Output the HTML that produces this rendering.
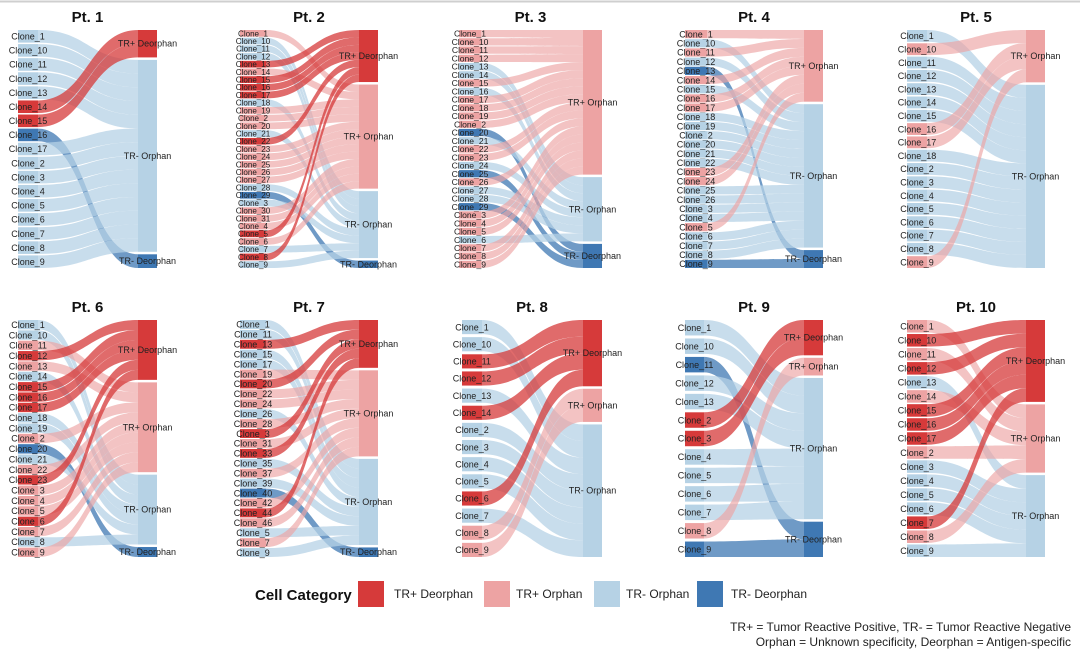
<!DOCTYPE html>
<html><head><meta charset="utf-8">
<style>
html,body{margin:0;padding:0;background:#fff;}
body{width:1080px;height:654px;overflow:hidden;font-family:"Liberation Sans",sans-serif;}
svg{display:block;}
</style></head>
<body>
<svg id="chart" width="1080" height="654" viewBox="0 0 1080 654" xmlns="http://www.w3.org/2000/svg">
  <line x1="0" y1="1.5" x2="1080" y2="1.5" stroke="#cfcfcf" stroke-width="2"/>
  <g id="panels"></g>
  <g font-family="Liberation Sans, sans-serif">
    <text x="255" y="600" font-size="15" font-weight="bold" fill="#111">Cell Category</text>
    <rect x="358" y="581" width="26" height="26" fill="#d63a3a"/>
    <text x="394" y="598" font-size="12" fill="#222">TR+ Deorphan</text>
    <rect x="484" y="581" width="26" height="26" fill="#eda3a3"/>
    <text x="516" y="598" font-size="12" fill="#222">TR+ Orphan</text>
    <rect x="594" y="581" width="26" height="26" fill="#b6d2e5"/>
    <text x="626" y="598" font-size="12" fill="#222">TR- Orphan</text>
    <rect x="697" y="581" width="26" height="26" fill="#3f78b3"/>
    <text x="731" y="598" font-size="12" fill="#222">TR- Deorphan</text>
    <text x="1071" y="631" font-size="12" fill="#222" text-anchor="end">TR+ = Tumor Reactive Positive, TR- = Tumor Reactive Negative</text>
    <text x="1071" y="646" font-size="12" fill="#222" text-anchor="end">Orphan = Unknown specificity, Deorphan = Antigen-specific</text>
  </g>
</svg>
<script>
// Category codes: D = TR+ Deorphan, O = TR+ Orphan, o = TR- Orphan, d = TR- Deorphan
const categoryNames = ["TR+ Deorphan","TR+ Orphan","TR- Orphan","TR- Deorphan"];
const categoryCodes = ["D","O","o","d"];
const panelTitles = ["Pt. 1","Pt. 2","Pt. 3","Pt. 4","Pt. 5","Pt. 6","Pt. 7","Pt. 8","Pt. 9","Pt. 10"];
const clones1 = ["1","10","11","12","13","14","15","16","17","2","3","4","5","6","7","8","9"];
const cats1 = "oooooDDdooooooooo";
const clones2 = ["1","10","11","12","13","14","15","16","17","18","19","2","20","21","22","23","24","25","26","27","28","29","3","30","31","4","5","6","7","8","9"];
const cats2 = "OoooDODDDoOOOoDOOOOOodoOOODOoDo";
const clones3 = ["1","10","11","12","13","14","15","16","17","18","19","2","20","21","22","23","24","25","26","27","28","29","3","4","5","6","7","8","9"];
const cats3 = "OOOOooOoOOOOdoOOodOoodOOOoOOO";
const clones4 = ["1","10","11","12","13","14","15","16","17","18","19","2","20","21","22","23","24","25","26","3","4","5","6","7","8","9"];
const cats4 = "OoOodOoOOooooooOOooooOoood";
const clones5 = ["1","10","11","12","13","14","15","16","17","18","2","3","4","5","6","7","8","9"];
const cats5 = "oOoooooOOooooooooO";
const clones6 = ["1","10","11","12","13","14","15","16","17","18","19","2","20","21","22","23","3","4","5","6","7","8","9"];
const cats6 = "ooODOoDDDooOdoODOOODOoO";
const clones7 = ["1","11","13","15","17","19","20","22","24","26","28","3","31","33","35","37","39","40","42","44","46","5","7","9"];
const cats7 = "ooDooODOOoODODoOodODOoOo";
const clones8 = ["1","10","11","12","13","14","2","3","4","5","6","7","8","9"];
const cats8 = "ooDDoDooooDoOO";
const clones9 = ["1","10","11","12","13","2","3","4","5","6","7","8","9"];
const cats9 = "oodooDDooooOd";
const clones10 = ["1","10","11","12","13","14","15","16","17","2","3","4","5","6","7","8","9"];
const cats10 = "ODODoODDDOooooDOo";

const allClones = [clones1,clones2,clones3,clones4,clones5,clones6,clones7,clones8,clones9,clones10];
const allCats = [cats1,cats2,cats3,cats4,cats5,cats6,cats7,cats8,cats9,cats10];

const nodeColors = ["#d63a3a","#eda3a3","#b6d2e5","#3f78b3"];
const flowOpacity = [0.75,0.65,0.75,0.75];
const layout = [
  {lx:18,lw:20,rx:138},{lx:240,lw:26,rx:359},{lx:459,lw:22,rx:583},{lx:685,lw:22,rx:804},{lx:907,lw:20,rx:1026},
  {lx:18,lw:20,rx:138},{lx:240,lw:26,rx:359},{lx:462,lw:20,rx:583},{lx:685,lw:19,rx:804},{lx:907,lw:20,rx:1026}
];
const NS="http://www.w3.org/2000/svg";
const root=document.getElementById("panels");
function mk(tag,attrs,parent){const e=document.createElementNS(NS,tag);for(const k in attrs)e.setAttribute(k,attrs[k]);parent.appendChild(e);return e;}

for(let p=0;p<10;p++){
  const L=layout[p], clones=allClones[p], cats=allCats[p];
  const top = p<5?30:320, bottom = p<5?268:557, H=bottom-top;
  const n=clones.length, rw=19;
  const g=mk("g",{},root);
  
  
  const t=mk("text",{x:(L.lx+L.rx+rw)/2,y:p<5?22:312,"font-size":15,"font-weight":"bold","text-anchor":"middle",fill:"#111"},g);
  t.textContent=panelTitles[p];
  
  
  const ci=[];for(let i=0;i<n;i++){let c=categoryCodes.indexOf(cats[i]);if(c<0)c=2;ci.push(c);}
  const counts=[0,0,0,0];ci.forEach(c=>counts[c]++);
  const present=[0,1,2,3].filter(c=>counts[c]>0);
  const lgap=n>20?1:(n>15?1.5:3), rgap=2.5;
  const lu=(H-(n-1)*lgap)/n;
  const ru=(H-(present.length-1)*rgap)/n;
  const rStart={};let y=top;
  present.forEach(c=>{rStart[c]=y;y+=counts[c]*ru+rgap;});
  const rCur=Object.assign({},rStart);
  const flows=mk("g",{},g);
  
  
  const x0=L.lx+L.lw, x1=L.rx, xm=(x0+x1)/2;
  for(let i=0;i<n;i++){
    const c=ci[i], y0=top+i*(lu+lgap), y1=y0+lu;
    const r0=rCur[c], r1=r0+ru; rCur[c]=r1;
    const path=mk("path",{d:`M${x0},${y0} C${xm},${y0} ${xm},${r0} ${x1},${r0} L${x1},${r1} C${xm},${r1} ${xm},${y1} ${x0},${y1} Z`,fill:nodeColors[c],"fill-opacity":flowOpacity[c]},flows);
    
    
  }
  for(let i=0;i<n;i++){
    const c=ci[i], y0=top+i*(lu+lgap);
    const r=mk("rect",{x:L.lx,y:y0,width:L.lw,height:lu,fill:nodeColors[c]},g);
    
    
    const fs=Math.min(9,lu*1.05+1);
    const tx=mk("text",{x:L.lx+L.lw/2,y:y0+lu/2+fs*0.36,"font-size":fs,"text-anchor":"middle",fill:"#222"},g);
    tx.textContent="Clone_"+clones[i];
    
    
  }
  present.forEach(c=>{
    const h=counts[c]*ru;
    const r=mk("rect",{x:L.rx,y:rStart[c],width:rw,height:h,fill:nodeColors[c]},g);
    
    
    const tx=mk("text",{x:L.rx+rw/2,y:rStart[c]+h/2+3,"font-size":9,"text-anchor":"middle",fill:"#222"},g);
    tx.textContent=categoryNames[c];
    
    
  });
}
</script>
</body></html>
